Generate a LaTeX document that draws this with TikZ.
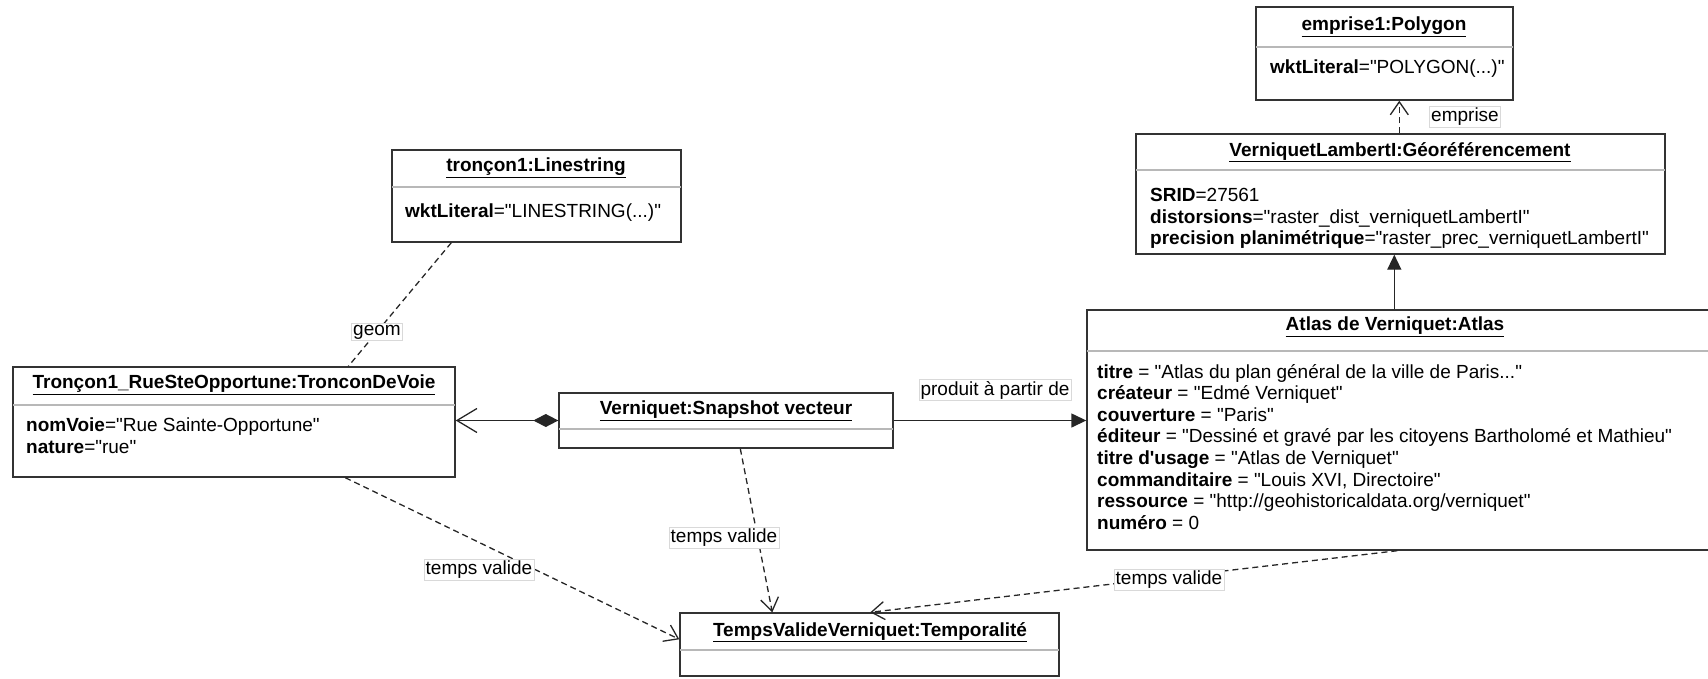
\documentclass[tikz,border=0pt]{standalone}
\usepackage{fontspec}
\setmainfont{Liberation Sans}[Ligatures=TeXOff]
\usetikzlibrary{arrows.meta,calc,fit}
\begin{document}
\begin{tikzpicture}[x=1pt,y=-1pt,
  obj/.style={draw=black!80,line width=1.4pt,inner sep=0pt},
  sepl/.style={draw=black!28,line width=1.1pt},
  ttl/.style={font=\fontsize{19}{21.6}\selectfont\bfseries,inner sep=0pt},
  attr/.style={font=\fontsize{19}{21.6}\selectfont,align=left,anchor=north west,inner sep=0pt},
  lab/.style={draw=black!15,line width=0.6pt,fill=white,inner sep=1.5pt,font=\fontsize{19}{21.6}\selectfont},
  dep/.style={draw=black!85,line width=1.3pt,dash pattern=on 6pt off 4pt},
  sol/.style={draw=black!85,line width=1.4pt},
  compo/.style={{Diamond[length=25pt,width=13pt]}-{Straight Barb[length=20pt,width=24pt,line width=1.3pt]}},
  opensm/.style={-{Straight Barb[length=13pt,width=18pt,line width=1.3pt]}},
  filled/.style={-{Triangle[length=15pt,width=14pt]}},
]
\useasboundingbox (0,0) rectangle (1708,678);

% emprise1:Polygon
\node[obj,fit={(1256,7)(1513,100)}] (poly) {};
\draw[sepl] (1256,47) -- (1513,47);
\node[ttl] (polyt) at (1384,27) {\underline{emprise1:Polygon}};
\node[attr] (polya) at (1270,60) {\textbf{wktLiteral}="POLYGON(...)"};

% VerniquetLambertI:Géoréférencement
\node[obj,fit={(1136,134)(1665,254)}] (geo) {};
\draw[sepl] (1136,170) -- (1665,170);
\node[ttl] (geot) at (1400,152) {\underline{VerniquetLambertI:Géoréférencement}};
\node[attr] (geoa) at (1150,188) {\textbf{SRID}=27561\\
\textbf{distorsions}="raster\_dist\_verniquetLambertI"\\
\textbf{precision planimétrique}="raster\_prec\_verniquetLambertI"};

% Atlas de Verniquet:Atlas
\node[obj,fit={(1087,310)(1740,550)}] (atlas) {};
\draw[sepl] (1087,351) -- (1740,351);
\node[ttl] (atlast) at (1395,327) {\underline{Atlas de Verniquet:Atlas}};
\node[attr] (atlasa) at (1097,364) {\textbf{titre} = "Atlas du plan général de la ville de Paris..."\\
\textbf{créateur} = "Edmé Verniquet"\\
\textbf{couverture} = "Paris"\\
\textbf{éditeur} = "Dessiné et gravé par les citoyens Bartholomé et Mathieu"\\
\textbf{titre d'usage} = "Atlas de Verniquet"\\
\textbf{commanditaire} = "Louis XVI, Directoire"\\
\textbf{ressource} = "http://geohistoricaldata.org/verniquet"\\
\textbf{numéro} = 0};

% tronçon1:Linestring
\node[obj,fit={(392,150)(681,242)}] (lin) {};
\draw[sepl] (392,187) -- (681,187);
\node[ttl] (lint) at (536,168) {\underline{tronçon1:Linestring}};
\node[attr] (lina) at (405,204) {\textbf{wktLiteral}="LINESTRING(...)"};

% Tronçon1_RueSteOpportune:TronconDeVoie
\node[obj,fit={(13,367)(455,477)}] (tron) {};
\draw[sepl] (13,405) -- (455,405);
\node[ttl] (tront) at (234,385) {\underline{Tronçon1\_RueSteOpportune:TronconDeVoie}};
\node[attr] (trona) at (26,418) {\textbf{nomVoie}="Rue Sainte-Opportune"\\
\textbf{nature}="rue"};

% Verniquet:Snapshot vecteur
\node[obj,fit={(559,393)(893,448)}] (snap) {};
\draw[sepl] (559,429) -- (893,429);
\node[ttl] (snapt) at (726,411) {\underline{Verniquet:Snapshot vecteur}};

% TempsValideVerniquet:Temporalité
\node[obj,fit={(680,613)(1059,676)}] (temp) {};
\draw[sepl] (680,650) -- (1059,650);
\node[ttl] (tempt) at (870,632) {\underline{TempsValideVerniquet:Temporalité}};

% connectors
\draw[sol,compo] (snap.west) -- (snap.west -| tron.east);
\draw[sol,filled] (snap.east) -- (snap.east -| atlas.west);
\draw[sol,filled] ($(atlas.north west)+(308,0)$) -- ($(geo.south west)+(259,0)$);
\draw[dep,opensm] ($(geo.north west)+(264,0)$) -- ($(poly.south west)+(144,0)$);
\draw[dep] ($(lin.south west)+(60,0)$) -- ($(tron.north west)+(336,0)$);
\draw[dep,opensm] ($(tron.south west)+(333,0)$) -- ($(temp.north west)+(0,27)$);
\draw[dep,opensm] ($(snap.south west)+(182,0)$) -- ($(temp.north west)+(93,0)$);
\draw[dep,opensm] ($(atlas.south west)+(311,0)$) -- ($(temp.north west)+(191,0)$);

% labels
\node[lab] (lemp) at (1465,117) {emprise};
\node[lab] (lprod) at (995,390) {produit à partir de};
\node[lab] (lgeom) at (377,332) {geom};
\node[lab] (ltv1) at (479,570) {temps valide};
\node[lab] (ltv2) at (724,538) {temps valide};
\node[lab] (ltv3) at (1169,580) {temps valide};
\end{tikzpicture}
\end{document}
